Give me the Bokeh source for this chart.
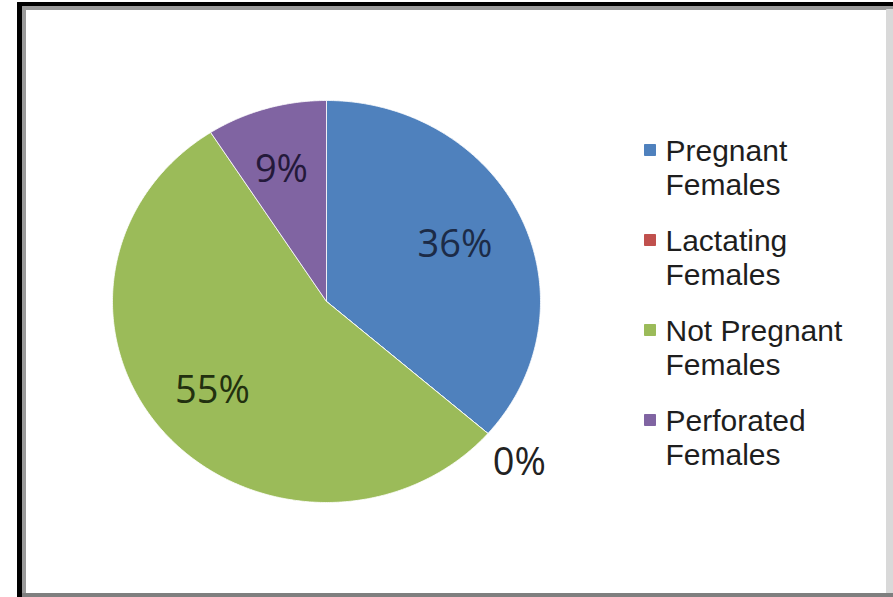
import numpy as np
from bokeh.plotting import figure
from bokeh.models import Range1d, ColumnDataSource
from bokeh.core.properties import value
from bokeh.embed import file_html
from bokeh.resources import INLINE

# ---- data ----
categories = ["Pregnant Females", "Lactating Females", "Not Pregnant Females", "Perforated Females"]
shares = [36.4, 0.0, 54.5, 9.1]
colors = ["#4F81BD", "#C0504D", "#9BBB59", "#8064A2"]
label_colors = ["#1C2B47", "#222222", "#22300F", "#24193A"]

# ---- layout constants ----
W, H = 893, 597
CX, CY, RX, RY = 326, 301, 214, 201

p = figure(width=W, height=H, x_range=Range1d(0, W), y_range=Range1d(H, 0),
           output_backend="svg", toolbar_location=None, min_border=0)
p.axis.visible = False
p.grid.visible = False
p.outline_line_color = None
p.background_fill_color = "white"
p.border_fill_color = "white"

# frame
p.quad(left=[17], right=[W], top=[2], bottom=[6], color="black")
p.quad(left=[17], right=[22], top=[2], bottom=[H], color="black")
p.quad(left=[22], right=[W], top=[6], bottom=[9], color="#9a9a9a")
p.quad(left=[22], right=[25], top=[6], bottom=[H], color="#9a9a9a")
p.quad(left=[886], right=[W], top=[9], bottom=[H], color="#d9d9d9")
p.quad(left=[22], right=[W], top=[593], bottom=[H], color="#7f7f7f")

# pie (clockwise from top, slightly elliptical like the reference)
total = float(sum(shares))
fr = np.concatenate([[0.0], np.cumsum(shares) / total])
xs, ys, lx, ly, ltxt = [], [], [], [], []
for i, s in enumerate(shares):
    a0, a1 = fr[i] * 2 * np.pi, fr[i + 1] * 2 * np.pi
    t = np.linspace(a0, a1, max(2, int(120 * (a1 - a0)) + 2))
    xs.append([CX] + list(CX + RX * np.sin(t)))
    ys.append([CY] + list(CY - RY * np.cos(t)))
    mid = (a0 + a1) / 2
    f = 0.68 if s > 0 else 1.22
    lx.append(CX + RX * f * np.sin(mid) - 4)
    ly.append(CY - RY * f * np.cos(mid) - 3)
    ltxt.append(f"{int(s + 0.5)}%")

src = ColumnDataSource(dict(xs=xs, ys=ys, color=colors))
p.patches("xs", "ys", source=src, fill_color="color", line_color="white",
          line_width=1, line_alpha=0.8)

lsrc = ColumnDataSource(dict(x=lx, y=ly, text=ltxt, c=label_colors))
p.text("x", "y", text="text", source=lsrc, text_color="c",
       text_font=value("Open Sans"), text_font_size="38px",
       text_align="center", text_baseline="middle")

# legend
n = len(categories)
mx = [649.5] * n
my = [149.5 + 90 * i for i in range(n)]
p.scatter(mx, my, marker="square", size=11, color=colors)
l1 = [c.rsplit(" ", 1)[0] for c in categories]
l2 = [c.rsplit(" ", 1)[1] for c in categories]
tsrc = ColumnDataSource(dict(x=[665] * n, y1=[150 + 90 * i for i in range(n)],
                             y2=[184 + 90 * i for i in range(n)], t1=l1, t2=l2))
for yk, tk in (("y1", "t1"), ("y2", "t2")):
    p.text("x", yk, text=tk, source=tsrc, text_color="#1e1e1e",
           text_font=value("Liberation Sans"), text_font_size="30px",
           text_align="left", text_baseline="middle")

open("out.html", "w").write(file_html(p, INLINE))
